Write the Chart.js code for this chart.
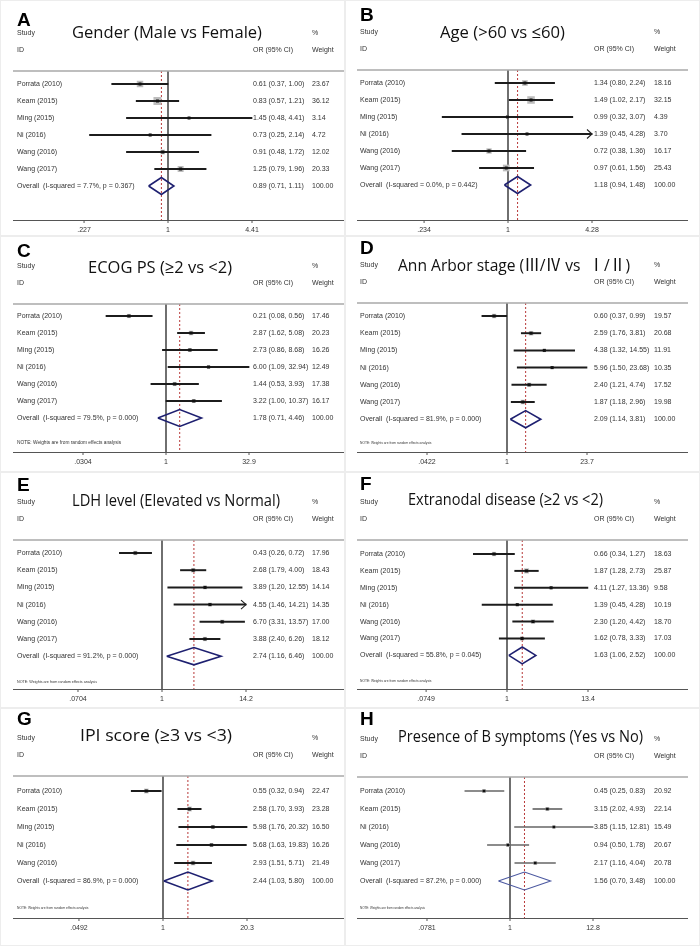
<!DOCTYPE html>
<html>
<head>
<meta charset="utf-8">
<script src="https://cdn.jsdelivr.net/npm/chart.js@4.4.1/dist/chart.umd.min.js"></script>
<style>
  body { margin: 0; background: #fff; }
  #wrap { position: relative; width: 700px; height: 946px; }
  #wrap canvas { position: absolute; outline: 1px solid #ededed; outline-offset: -1px; }
</style>
</head>
<body>
<div id="wrap"></div>
<script>
// ---- data ----
const studies6 = ['Porrata (2010)', 'Keam (2015)', 'Ming (2015)', 'Ni (2016)', 'Wang (2016)', 'Wang (2017)'];
const studiesIPI = ['Porrata (2010)', 'Keam (2015)', 'Ming (2015)', 'Ni (2016)', 'Wang (2016)'];
const studiesBsym = ['Porrata (2010)', 'Keam (2015)', 'Ni (2016)', 'Wang (2016)', 'Wang (2017)'];

const genderOR = [0.61, 0.83, 1.45, 0.73, 0.91, 1.25];
const genderLo = [0.37, 0.57, 0.48, 0.25, 0.48, 0.79];
const genderHi = [1.00, 1.21, 4.41, 2.14, 1.72, 1.96];
const genderW = [23.67, 36.12, 3.14, 4.72, 12.02, 20.33];

const ageOR = [1.34, 1.49, 0.99, 1.39, 0.72, 0.97];
const ageLo = [0.80, 1.02, 0.32, 0.45, 0.38, 0.61];
const ageHi = [2.24, 2.17, 3.07, 4.28, 1.36, 1.56];
const ageW = [18.16, 32.15, 4.39, 3.70, 16.17, 25.43];

const ecogOR = [0.21, 2.87, 2.73, 6.00, 1.44, 3.22];
const ecogLo = [0.08, 1.62, 0.86, 1.09, 0.53, 1.00];
const ecogHi = [0.56, 5.08, 8.68, 32.94, 3.93, 10.37];
const ecogW = [17.46, 20.23, 16.26, 12.49, 17.38, 16.17];

const stageOR = [0.60, 2.59, 4.38, 5.96, 2.40, 1.87];
const stageLo = [0.37, 1.76, 1.32, 1.50, 1.21, 1.18];
const stageHi = [0.99, 3.81, 14.55, 23.68, 4.74, 2.96];
const stageW = [19.57, 20.68, 11.91, 10.35, 17.52, 19.98];

const ldhOR = [0.43, 2.68, 3.89, 4.55, 6.70, 3.88];
const ldhLo = [0.26, 1.79, 1.20, 1.46, 3.31, 2.40];
const ldhHi = [0.72, 4.00, 12.55, 14.21, 13.57, 6.26];
const ldhW = [17.96, 18.43, 14.14, 14.35, 17.00, 18.12];

const extraOR = [0.66, 1.87, 4.11, 1.39, 2.30, 1.62];
const extraLo = [0.34, 1.28, 1.27, 0.45, 1.20, 0.78];
const extraHi = [1.27, 2.73, 13.36, 4.28, 4.42, 3.33];
const extraW = [18.63, 25.87, 9.58, 10.19, 18.70, 17.03];

const ipiOR = [0.55, 2.58, 5.98, 5.68, 2.93];
const ipiLo = [0.32, 1.70, 1.76, 1.63, 1.51];
const ipiHi = [0.94, 3.93, 20.32, 19.83, 5.71];
const ipiW = [22.47, 23.28, 16.50, 16.26, 21.49];

const bsymOR = [0.45, 3.15, 3.85, 0.94, 2.17];
const bsymLo = [0.25, 2.02, 1.15, 0.50, 1.16];
const bsymHi = [0.83, 4.93, 12.81, 1.78, 4.04];
const bsymW = [20.92, 22.14, 15.49, 20.67, 20.78];

// overall estimates, panels A..H
const overallOR = [0.89, 1.18, 1.78, 2.09, 2.74, 1.63, 2.44, 1.56];
const overallLo = [0.71, 0.94, 0.71, 1.14, 1.16, 1.06, 1.03, 0.70];
const overallHi = [1.11, 1.48, 4.46, 3.81, 6.46, 2.52, 5.80, 3.48];
const iSquared = ['7.7', '0.0', '79.5', '81.9', '91.2', '55.8', '86.9', '87.2'];
const pValue = ['0.367', '0.442', '0.000', '0.000', '0.000', '0.045', '0.000', '0.000'];

// axis ticks, panels A..H
const tickValues = [[0.227, 1, 4.41], [0.234, 1, 4.28], [0.0304, 1, 32.9], [0.0422, 1, 23.7],
                    [0.0704, 1, 14.2], [0.0749, 1, 13.4], [0.0492, 1, 20.3], [0.0781, 1, 12.8]];
const tickLabels = [['.227', '1', '4.41'], ['.234', '1', '4.28'], ['.0304', '1', '32.9'], ['.0422', '1', '23.7'],
                    ['.0704', '1', '14.2'], ['.0749', '1', '13.4'], ['.0492', '1', '20.3'], ['.0781', '1', '12.8']];

const titles = ['Gender (Male vs Female)', 'Age (>60 vs \u226460)', 'ECOG PS (\u22652 vs <2)',
  'Ann Arbor stage (\u2162/\u2163 vs  \u2160/\u2161)', 'LDH level (Elevated vs Normal)',
  'Extranodal disease (\u22652 vs <2)', 'IPI score (\u22653 vs <3)', 'Presence of B symptoms (Yes vs No)'];
const letters = ['A', 'B', 'C', 'D', 'E', 'F', 'G', 'H'];

const panelData = [
  [studies6, genderOR, genderLo, genderHi, genderW],
  [studies6, ageOR, ageLo, ageHi, ageW],
  [studies6, ecogOR, ecogLo, ecogHi, ecogW],
  [studies6, stageOR, stageLo, stageHi, stageW],
  [studies6, ldhOR, ldhLo, ldhHi, ldhW],
  [studies6, extraOR, extraLo, extraHi, extraW],
  [studiesIPI, ipiOR, ipiLo, ipiHi, ipiW],
  [studiesBsym, bsymOR, bsymLo, bsymHi, bsymW]
];
const arrowRows = [[], [3], [], [], [3], [], [], []];
const hasNote = [false, false, true, true, true, true, true, true];

// ---- layout (pixels inside each panel) ----
const layout = [
  { header: 71, axis: 220, row0: 84, step: 17, nullX: 168, half: 84, letterY: 21, titleY: 33, titleX: 72, titleW: 190, note: 0, noteSize: 0, boxK: 0.94 },
  { header: 70, axis: 220, row0: 83, step: 17, nullX: 163, half: 84, letterY: 16, titleY: 33, titleX: 95, titleW: 125, note: 0, noteSize: 0, boxK: 0.94 },
  { header: 68, axis: 216, row0: 80, step: 17, nullX: 166, half: 83, letterY: 16, titleY: 32, titleX: 88, titleW: 144, note: 207, noteSize: 4.8, boxK: 0.7 },
  { header: 67, axis: 216, row0: 80, step: 17.2, nullX: 162, half: 80, letterY: 13, titleY: 30, titleX: 53, titleW: 232, note: 207, noteSize: 3.3, boxK: 0.7 },
  { header: 68, axis: 217, row0: 81, step: 17.2, nullX: 162, half: 84, letterY: 14, titleY: 29, titleX: 72, titleW: 208, note: 210, noteSize: 3.7, boxK: 0.7 },
  { header: 68, axis: 217, row0: 82, step: 16.9, nullX: 162, half: 81, letterY: 13, titleY: 28, titleX: 63, titleW: 195, note: 209, noteSize: 3.3, boxK: 0.7 },
  { header: 68, axis: 210, row0: 83, step: 18, nullX: 163, half: 84, letterY: 12, titleY: 28, titleX: 80, titleW: 152, note: 200, noteSize: 3.3, boxK: 0.7 },
  { header: 69, axis: 210, row0: 83, step: 18, nullX: 165, half: 83, letterY: 12, titleY: 29, titleX: 53, titleW: 245, note: 200, noteSize: 3.0, boxK: 0.6 }
];
const panelTops = [0, 236, 472, 708];
const panelHeights = [236, 236, 236, 238];

const small = '7px "Liberation Sans", Arial, sans-serif';

const forestText = {
  id: 'forestText',
  afterDraw(chart, args, o) {
    const { ctx, chartArea: a, scales: { x, y } } = chart;
    const L = o.L, i = o.idx, right = o.right;
    const [names, or, lo, hi] = panelData[i];
    const sx = right ? 15 : 17, ox = right ? 249 : 253, wx = right ? 309 : 312;
    const n = names.length;
    const seg = (x1, y1, x2, y2) => { ctx.beginPath(); ctx.moveTo(x1, y1); ctx.lineTo(x2, y2); ctx.stroke(); };
    ctx.save();
    // header rule and axis
    ctx.strokeStyle = '#a9a9a9'; ctx.lineWidth = 1.5;
    seg(a.left, a.top, a.right, a.top);
    ctx.strokeStyle = '#555'; ctx.lineWidth = 1;
    seg(a.left, a.bottom + 0.5, a.right, a.bottom + 0.5);
    ctx.fillStyle = '#333'; ctx.font = small; ctx.textAlign = 'center'; ctx.textBaseline = 'middle';
    tickValues[i].forEach((t, k) => {
      const px = x.getPixelForValue(t);
      seg(px, a.bottom, px, a.bottom + 3);
      ctx.fillText(tickLabels[i][k], px, a.bottom + 10);
    });
    // arrows for truncated CIs
    ctx.strokeStyle = '#222'; ctx.lineWidth = 1.1;
    arrowRows[i].forEach(r => {
      const px = x.getPixelForValue(hi[r]), py = y.getPixelForValue(r);
      ctx.beginPath(); ctx.moveTo(px - 5, py - 4.5); ctx.lineTo(px, py); ctx.lineTo(px - 5, py + 4.5); ctx.stroke();
    });
    // column headers
    ctx.textAlign = 'left';
    ctx.fillStyle = '#333';
    ctx.fillText('Study', sx, L.header - 38);
    ctx.fillText('ID', sx, L.header - 21);
    ctx.fillText('OR (95% CI)', ox, L.header - 21);
    ctx.fillText('%', wx, L.header - 38);
    ctx.fillText('Weight', wx, L.header - 21);
    // rows
    names.forEach((nm, r) => {
      const py = y.getPixelForValue(r);
      ctx.fillText(nm, sx, py);
      ctx.fillText(`${or[r].toFixed(2)} (${lo[r].toFixed(2)}, ${hi[r].toFixed(2)})`, ox, py);
      ctx.fillText(panelData[i][4][r].toFixed(2), wx, py);
    });
    const py = y.getPixelForValue(n);
    ctx.fillText(`Overall  (I-squared = ${iSquared[i]}%, p = ${pValue[i]})`, sx, py);
    ctx.fillText(`${overallOR[i].toFixed(2)} (${overallLo[i].toFixed(2)}, ${overallHi[i].toFixed(2)})`, ox, py);
    ctx.fillText('100.00', wx, py);
    if (hasNote[i]) {
      ctx.font = `${L.noteSize}px "Liberation Sans", Arial, sans-serif`;
      ctx.fillText('NOTE: Weights are from random effects analysis', sx, L.note);
    }
    // letter and title
    ctx.fillStyle = '#000';
    ctx.font = 'bold 19px "Liberation Sans", Arial, sans-serif';
    ctx.fillText(letters[i], sx, L.letterY);
    ctx.font = '17px "Open Sans", "Noto Sans CJK SC", sans-serif';
    ctx.fillStyle = '#111';
    const tw = ctx.measureText(titles[i]).width;
    ctx.translate(L.titleX, L.titleY);
    ctx.scale(Math.min(1.08, L.titleW / tw), 1);
    ctx.fillText(titles[i], 0, 0);
    ctx.restore();
  }
};

const wrap = document.getElementById('wrap');
for (let i = 0; i < 8; i++) {
  const right = i % 2 === 1;
  const L = layout[i];
  const W = right ? 355 : 345, H = panelHeights[Math.floor(i / 2)];
  const cv = document.createElement('canvas');
  cv.width = W; cv.height = H;
  cv.style.left = (right ? 345 : 0) + 'px';
  cv.style.top = panelTops[Math.floor(i / 2)] + 'px';
  wrap.appendChild(cv);

  const padL = right ? 12 : 13, padR = right ? 12 : 0;
  const k = Math.log(tickValues[i][2]) / L.half;
  const xMin = Math.exp((padL - L.nullX) * k), xMax = Math.exp((W - padR - L.nullX) * k);
  const yMin = -(L.row0 - L.header) / L.step, yMax = (L.axis - L.row0) / L.step;

  const [names, or, lo, hi, w] = panelData[i];
  const n = names.length;
  const light = i === 7;
  const ciColor = light ? '#666' : '#1c1c1c';
  const dia = 0.5;

  new Chart(cv, {
    type: 'scatter',
    data: {
      datasets: [
        { // centre dots
          data: or.map((v, r) => ({ x: v, y: r })),
          pointStyle: 'rect', pointRadius: light ? 1.8 : 2.1, backgroundColor: '#111', borderWidth: 0, order: 0
        },
        { // confidence intervals
          type: 'bar', indexAxis: 'y',
          data: lo.map((v, r) => ({ x: [v, hi[r]], y: r })),
          barThickness: light ? 1 : 1.3, backgroundColor: ciColor, borderWidth: 0, order: 1
        },
        { // weight boxes
          data: or.map((v, r) => ({ x: v, y: r })),
          pointStyle: 'rect', pointRadius: w.map(v => L.boxK * Math.sqrt(v)),
          backgroundColor: '#bdbdbd', borderWidth: 0, order: 2
        },
        { // pooled diamond
          data: [
            { x: overallLo[i], y: n }, { x: overallOR[i], y: n - dia },
            { x: overallHi[i], y: n }, { x: overallOR[i], y: n + dia }, { x: overallLo[i], y: n }
          ],
          showLine: true, borderColor: light ? '#4b58a0' : '#1e2070', borderWidth: light ? 1.1 : 1.6,
          pointRadius: 0, fill: false, order: 3
        },
        { // pooled estimate line
          data: [{ x: overallOR[i], y: yMin }, { x: overallOR[i], y: yMax }],
          showLine: true, borderColor: '#b83a3a', borderWidth: 1, borderDash: [2, 2], pointRadius: 0, order: 4
        },
        { // line of no effect
          data: [{ x: 1, y: yMin }, { x: 1, y: yMax }],
          showLine: true, borderColor: '#111', borderWidth: 1.2, pointRadius: 0, order: 5
        }
      ]
    },
    options: {
      responsive: false, animation: false, events: [],
      layout: { autoPadding: false, padding: { left: padL, right: padR, top: L.header, bottom: H - L.axis } },
      scales: {
        x: { type: 'logarithmic', min: xMin, max: xMax, offset: false, display: false },
        y: { type: 'linear', min: yMin, max: yMax, reverse: true, offset: false, display: false }
      },
      plugins: { legend: { display: false }, tooltip: { enabled: false }, forestText: { L, idx: i, right } }
    },
    plugins: [forestText]
  });
}
</script>
</body>
</html>
